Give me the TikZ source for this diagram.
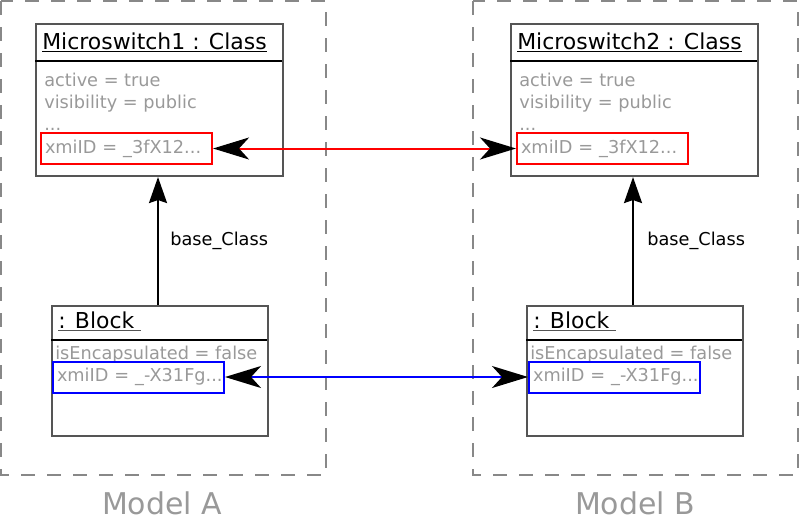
\documentclass[tikz,border=0pt]{standalone}
\usepackage{fontspec}
\setmainfont{DejaVu Sans}
\usepackage{xcolor}
\usetikzlibrary{arrows.meta}
\definecolor{boxgray}{HTML}{555555}
\definecolor{attrgray}{HTML}{999999}
\definecolor{framegray}{HTML}{888888}
\tikzset{umlbox/.style={draw=boxgray, line width=0.05cm, inner sep=0pt, anchor=north west},
 title/.style={anchor=base west, inner sep=0pt, font=\fontsize{15.6}{18}\selectfont},
 attr/.style={anchor=base west, inner sep=0pt, text=attrgray, font=\fontsize{12.6}{15}\selectfont},
 idbox/.style={attr, anchor=west, line width=0.05cm, text width=4.075cm,
   inner xsep=0.1cm, inner ysep=0pt, minimum height=0.775cm, align=left},
 sepline/.style={line width=0.07cm},
 frame/.style={draw=framegray, line width=0.055cm, dash pattern=on 0.35cm off 0.3cm},
 model/.style={anchor=base, inner sep=0pt, text=attrgray, font=\fontsize{21.3}{25}\selectfont},
 link/.style={line width=0.05cm, >={Stealth[length=0.9cm,width=0.55cm,inset=0.25cm,color=black]}, <->},
 baselink/.style={line width=0.05cm, -{Stealth[length=0.65cm,width=0.45cm,inset=0.075cm]}},
 }

\begin{document}
\begin{tikzpicture}[x=0.025cm, y=-0.025cm]
        \useasboundingbox (0,0) rectangle (800,520);
        % Model A
        \draw[frame] (1,1) rectangle (326,475);
        \node[umlbox, minimum width=6.175cm, minimum height=3.8cm] (cls1) at (35,23) {};
        \node[title] (cls1t) at (42,49) {\underline{Microswitch1 : Class}};
        \draw[sepline] (35,61) -- (282,61);
        \node[attr] (cls1a) at (44,86) {active = true};
        \node[attr] (cls1b) at (44,108) {visibility = public};
        \node[attr] (cls1c) at (44,130) {...};
        \node[idbox, draw=red] (id1) at (40,148.5) {\mbox{xmiID = \_3fX12...}};
        \node[umlbox, minimum width=5.4cm, minimum height=3.25cm] (blk1) at (51,305) {};
        \node[title] (blk1t) at (58,328) {{\color{boxgray}\underline{\color{black}: Block\ }}};
        \draw[sepline] (51,340) -- (267,340);
        \node[attr] (blk1a) at (55,359) {isEncapsulated = false};
        \node[idbox, draw=blue] (bid1) at (52,377) {\mbox{xmiID = \_-X31Fg...}};
        \draw[baselink] (blk1.north -| 158,0) -- (cls1.south -| 158,0);
        \node[attr, text=black] (base1) at (170,245) {base\_Class};
        \node[model] (ma) at (162,514) {Model A};
        % Model B
        \draw[frame] (473,1) rectangle (798,475);
        \node[umlbox, minimum width=6.175cm, minimum height=3.8cm] (cls2) at (510,23) {};
        \node[title] (cls2t) at (517,49) {\underline{Microswitch2 : Class}};
        \draw[sepline] (510,61) -- (757,61);
        \node[attr] (cls2a) at (519,86) {active = true};
        \node[attr] (cls2b) at (519,108) {visibility = public};
        \node[attr] (cls2c) at (519,130) {...};
        \node[idbox, draw=red] (id2) at (516,148.5) {\mbox{xmiID = \_3fX12...}};
        \node[umlbox, minimum width=5.4cm, minimum height=3.25cm] (blk2) at (526,305) {};
        \node[title] (blk2t) at (533,328) {{\color{boxgray}\underline{\color{black}: Block\ }}};
        \draw[sepline] (526,340) -- (742,340);
        \node[attr] (blk2a) at (530,359) {isEncapsulated = false};
        \node[idbox, draw=blue] (bid2) at (528,377) {\mbox{xmiID = \_-X31Fg...}};
        \draw[baselink] (blk2.north -| 633,0) -- (cls2.south -| 633,0);
        \node[attr, text=black] (base2) at (647,245) {base\_Class};
        \node[model] (mb) at (635,514) {Model B};
        % links between the models
        \draw[link, red] (id1) -- (id2);
        \draw[link, blue] (bid1) -- (bid2);
    \end{tikzpicture}
\end{document}
